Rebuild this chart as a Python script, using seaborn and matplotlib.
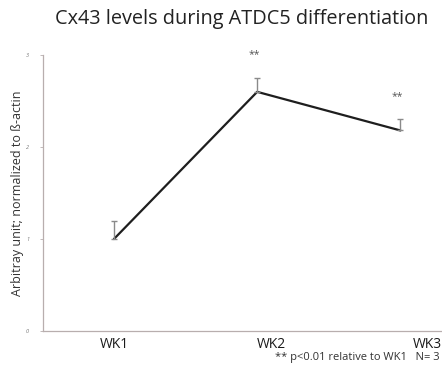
import numpy as np
import pandas as pd
import matplotlib
matplotlib.use("Agg")
import matplotlib.pyplot as plt
import seaborn as sns

# values
weeks = ["WK1", "WK2", "WK3"]
week_pos = [0, 1, 2]
cx43_mean = [1.0, 2.6, 2.18]
cx43_err = [0.2, 0.15, 0.12]
signif = ["", "**", "**"]
tick_pos = [0, 1.1, 2.19]

sns.set_style("white")
plt.rcParams['font.family'] = ['Open Sans', 'DejaVu Sans']

df = pd.DataFrame({"week": week_pos, "level": cx43_mean})

fig = plt.figure(figsize=(4.42, 3.66), dpi=100)
ax = fig.add_axes([0.0973, 0.0956, 0.9027, 0.754])

sns.lineplot(data=df, x="week", y="level", color="#1e1e1e", lw=1.6, ax=ax)
ax.errorbar(week_pos, cx43_mean, yerr=[np.zeros(len(cx43_err)), cx43_err],
            fmt="none", ecolor="#8a8a8a", elinewidth=1.0, capsize=2, capthick=1.0)

for x, m, e, s in zip(week_pos, cx43_mean, cx43_err, signif):
    if s:
        ax.text(x - 0.02, m + e + 0.25, s, ha="center", va="center",
                fontsize=7.5, color="#555555")

ax.set_xlim(-0.495, 2.29)
ax.set_ylim(0, 3)
ax.set_yticks([0, 1, 2, 3])
ax.set_yticklabels(["0", "1", "2", "3"], fontsize=4, color="#777777", style="italic")
ax.tick_params(axis="y", length=2, width=0.6, color="#b8aeae", pad=8, left=True)
ax.set_xticks(tick_pos)
ax.set_xticklabels(weeks, fontsize=10, color="#1a1a1a")
ax.tick_params(axis="x", length=0, pad=4)

for side in ["top", "right"]:
    ax.spines[side].set_visible(False)
for side in ["left", "bottom"]:
    ax.spines[side].set_color("#b8aeae")
    ax.spines[side].set_linewidth(0.9)

ax.set_xlabel("")
ax.set_ylabel("Arbitray unit; normalized to ß-actin", fontsize=9, color="#333333")
ax.yaxis.set_label_coords(-0.048, 0.5)

fig.text(0.546, 0.948, "Cx43 levels during ATDC5 differentiation", ha="center", va="center",
         fontsize=14.3, color="#222222")
fig.text(0.995, 0.022, "** p<0.01 relative to WK1   N= 3", ha="right", va="center",
         fontsize=8, color="#333333")

fig.savefig("out.png", dpi=100)
